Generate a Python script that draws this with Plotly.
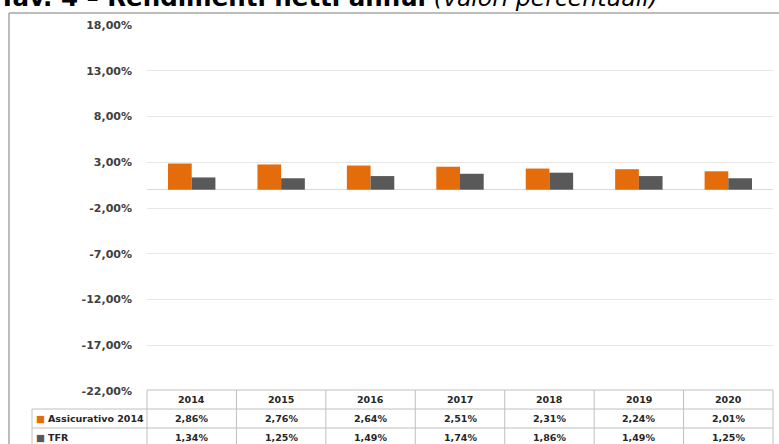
import plotly.graph_objects as go

years = ["2014", "2015", "2016", "2017", "2018", "2019", "2020"]
series_names = ["Assicurativo 2014", "TFR"]
assicurativo = [2.86, 2.76, 2.64, 2.51, 2.31, 2.24, 2.01]
tfr = [1.34, 1.25, 1.49, 1.74, 1.86, 1.49, 1.25]
colors = ["#E46C0A", "#595959"]
tick_vals = [-22, -17, -12, -7, -2, 3, 8, 13, 18]
tick_text = ["-22,00%", "-17,00%", "-12,00%", "-7,00%", "-2,00%", "3,00%", "8,00%", "13,00%", "18,00%"]
title_main = "Tav. 4 – Rendimenti netti annui"
title_sub = "(valori percentuali)"

W, H = 779, 444
L, R, T, B = 147, 6, 25, 53
PW, PH = W - L - R, H - T - B


def px(x):
    return (x - L) / PW


def py(y):
    return (H - B - y) / PH


def fmt(v):
    return f"{v:.2f}".replace(".", ",") + "%"


FONT = "Verdana, DejaVu Sans, sans-serif"
TXT = "#262626"

fig = go.Figure()
for name, vals, c in zip(series_names, [assicurativo, tfr], colors):
    fig.add_trace(go.Bar(x=years, y=vals, name=name, marker=dict(color=c, line=dict(width=0)),
                         showlegend=False))

shapes = []
annotations = []
line_c = "#c0c0c0"

# chart frame (left and top edges visible)
shapes.append(dict(type="line", xref="paper", yref="paper", x0=px(9), x1=px(785), y0=py(13), y1=py(13),
                   line=dict(color="#a6a6a6", width=1.5)))
shapes.append(dict(type="line", xref="paper", yref="paper", x0=px(9), x1=px(9), y0=py(13), y1=py(450),
                   line=dict(color="#a6a6a6", width=1.5)))

# data table
row_y = [390, 409, 428, 447]
ncol = len(years)
colw = PW / ncol
shapes.append(dict(type="line", xref="paper", yref="paper", x0=px(L), x1=px(L + PW), y0=py(row_y[0]), y1=py(row_y[0]),
                   line=dict(color=line_c, width=1)))
for yy in row_y[1:]:
    shapes.append(dict(type="line", xref="paper", yref="paper", x0=px(32), x1=px(L + PW), y0=py(yy), y1=py(yy),
                       line=dict(color=line_c, width=1)))
for k in range(ncol + 1):
    xx = L + k * colw
    shapes.append(dict(type="line", xref="paper", yref="paper", x0=px(xx), x1=px(xx), y0=py(row_y[0]), y1=py(row_y[3]),
                       line=dict(color=line_c, width=1)))
shapes.append(dict(type="line", xref="paper", yref="paper", x0=px(32), x1=px(32), y0=py(row_y[1]), y1=py(row_y[3]),
                   line=dict(color=line_c, width=1)))

cell_font = dict(family=FONT, size=9.5, color=TXT)
for i, yr in enumerate(years):
    annotations.append(dict(x=i, xref="x", y=py((row_y[0] + row_y[1]) / 2), yref="paper", text=f"<b>{yr}</b>",
                            showarrow=False, font=cell_font, xanchor="center", yanchor="middle"))
    for r, vals in enumerate([assicurativo, tfr]):
        annotations.append(dict(x=i, xref="x", y=py((row_y[r + 1] + row_y[r + 2]) / 2), yref="paper",
                                text=f"<b>{fmt(vals[i])}</b>", showarrow=False, font=cell_font,
                                xanchor="center", yanchor="middle"))
for r, (name, c) in enumerate(zip(series_names, colors)):
    annotations.append(dict(x=px(34), xref="paper", y=py((row_y[r + 1] + row_y[r + 2]) / 2), yref="paper",
                            text=f"<span style='color:{c}'>■</span> <b>{name}</b>", showarrow=False,
                            font=cell_font, xanchor="left", yanchor="middle"))

# title (partially cut off at top)
annotations.append(dict(x=px(-3), xref="paper", y=py(14), yref="paper", xanchor="left", yanchor="bottom",
                        text=f"<b>{title_main}</b> <i><span style='font-size:23.5px'>{title_sub}</span></i>",
                        showarrow=False,
                        font=dict(family=FONT, size=24.5, color="#000000")))

fig.update_layout(
    width=W, height=H,
    margin=dict(l=L, r=R, t=T, b=B, pad=0, autoexpand=False),
    paper_bgcolor="white", plot_bgcolor="white",
    barmode="group", bargap=0.47, bargroupgap=0,
    xaxis=dict(type="category", range=[-0.5, len(years) - 0.5], autorange=False,
               showticklabels=False, showgrid=False, zeroline=False, showline=False, ticks=""),
    yaxis=dict(range=[-22, 18], tickvals=tick_vals, ticktext=[f"<b>{t}</b>" for t in tick_text],
               tickfont=dict(family=FONT, size=11, color="#404040"),
               showgrid=True, gridcolor="#e6e6e6", gridwidth=1,
               zeroline=True, zerolinecolor="#d9d9d9", zerolinewidth=1,
               showline=False, ticks="", ticklabelstandoff=14),
    shapes=shapes, annotations=annotations,
)

fig.write_html("out.html", config={"displayModeBar": False},
               post_script="document.body.style.margin='0';document.body.style.padding='0';")
